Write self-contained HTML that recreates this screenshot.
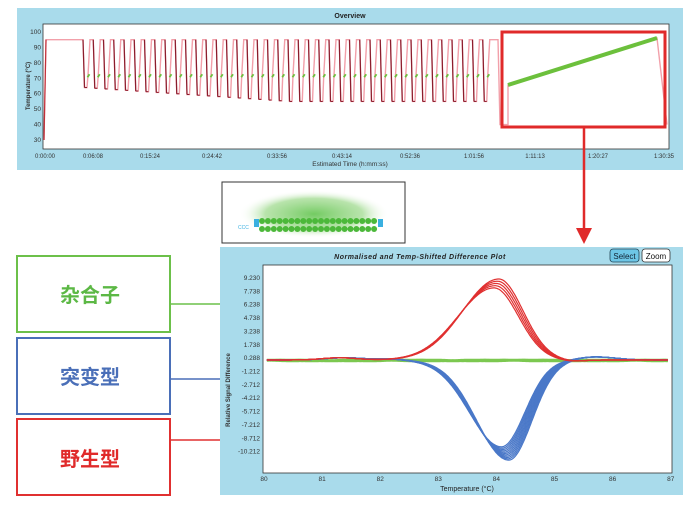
<!DOCTYPE html>
<html><head><meta charset="utf-8"><style>
html,body{margin:0;padding:0;background:#fff;width:694px;height:507px;overflow:hidden;font-family:"Liberation Sans",sans-serif}
</style></head><body>
<svg id="s" width="694" height="507" xmlns="http://www.w3.org/2000/svg" font-family="Liberation Sans, sans-serif">
<defs>
<radialGradient id="glow" cx="50%" cy="50%" r="50%"><stop offset="0" stop-color="#6cc85a" stop-opacity="0.95"/><stop offset="0.65" stop-color="#9ad888" stop-opacity="0.7"/><stop offset="1" stop-color="#ffffff" stop-opacity="0"/></radialGradient>
</defs>
<rect x="17" y="8" width="666" height="162" fill="#a9dbeb"/>
<rect x="43" y="24" width="626" height="125" fill="#fff" stroke="#333" stroke-width="0.8"/>
<text x="350" y="18" font-size="7" font-weight="bold" text-anchor="middle" fill="#222">Overview</text>
<g font-size="6.5" fill="#333" text-anchor="end" id="tyl"></g>
<g font-size="6" fill="#333" text-anchor="middle">
<text x="45" y="158">0:00:00</text><text x="93" y="158">0:06:08</text><text x="150" y="158">0:15:24</text><text x="212" y="158">0:24:42</text><text x="277" y="158">0:33:56</text><text x="342" y="158">0:43:14</text><text x="410" y="158">0:52:36</text><text x="474" y="158">1:01:56</text><text x="535" y="158">1:11:13</text><text x="598" y="158">1:20:27</text><text x="664" y="158">1:30:35</text>
<text x="350" y="166" font-size="6.5">Estimated Time (h:mm:ss)</text>
</g>
<text transform="translate(30,86) rotate(-90)" font-size="6" font-weight="bold" text-anchor="middle" fill="#333">Temperature (°C)</text>
<g id="top"></g>
<rect x="502" y="32" width="163" height="95" fill="none" stroke="#e02a2a" stroke-width="3"/>
<line x1="508" y1="85" x2="657" y2="38" stroke="#6cc03c" stroke-width="4"/>
<line x1="584" y1="127" x2="584" y2="230" stroke="#e02a2a" stroke-width="2.5"/>
<polygon points="576,228 592,228 584,244" fill="#e02a2a"/>
<rect x="222" y="182" width="183" height="61" fill="#fff" stroke="#333" stroke-width="1"/>
<ellipse cx="314" cy="214" rx="75" ry="24" fill="url(#glow)"/>
<g id="dna"></g>
<g font-family="Liberation Sans, Noto Sans CJK SC, sans-serif" font-weight="bold" font-size="20" text-anchor="middle">
<rect x="17" y="256" width="153" height="76" fill="#fff" stroke="#6cc04a" stroke-width="2"/>
<text x="90" y="302" fill="#5cb845">杂合子</text>
<rect x="17" y="338" width="153" height="76" fill="#fff" stroke="#4a6fb8" stroke-width="2"/>
<text x="90" y="384" fill="#4a6fb8">突变型</text>
<rect x="17" y="419" width="153" height="76" fill="#fff" stroke="#e03030" stroke-width="2"/>
<text x="90" y="466" fill="#e02a2a">野生型</text>
</g>
<line x1="170" y1="304" x2="220" y2="304" stroke="#6cc04a" stroke-width="1.5"/>
<line x1="170" y1="379" x2="220" y2="379" stroke="#4a6fb8" stroke-width="1.5"/>
<line x1="170" y1="440" x2="220" y2="440" stroke="#e03030" stroke-width="1.5"/>
<rect x="220" y="247" width="463" height="248" fill="#a9dbeb"/>
<rect x="263" y="265" width="409" height="208" fill="#fff" stroke="#333" stroke-width="0.8"/>
<text x="420" y="259" font-size="7" font-weight="bold" font-style="italic" text-anchor="middle" fill="#222" letter-spacing="0.5">Normalised and Temp-Shifted Difference Plot</text>
<rect x="610" y="249" width="29" height="13" rx="3" fill="#6ec6e6" stroke="#245" stroke-width="0.8"/>
<text x="624.5" y="259" font-size="8" text-anchor="middle" fill="#123">Select</text>
<rect x="642" y="249" width="28" height="13" rx="3" fill="#fff" stroke="#333" stroke-width="0.8"/>
<text x="656" y="259" font-size="8" text-anchor="middle" fill="#111">Zoom</text>
<g font-size="6.5" fill="#333" text-anchor="end" id="byl"></g>
<g font-size="6.5" fill="#333" text-anchor="middle" id="bxl"></g>
<text x="467" y="491" font-size="7" text-anchor="middle" fill="#222">Temperature (°C)</text>
<text transform="translate(230,390) rotate(-90)" font-size="6" font-weight="bold" text-anchor="middle" fill="#333">Relative Signal Difference</text>
<g id="bot"></g>
</svg>
<script>
var NS="http://www.w3.org/2000/svg";
function el(p,t,a,txt){var e=document.createElementNS(NS,t);for(var k in a)e.setAttribute(k,a[k]);if(txt!==undefined)e.textContent=txt;document.getElementById(p).appendChild(e);return e;}
function Y(T){return 32+(100-T)*1.543;}
for(var t=30;t<=100;t+=10)el("tyl","text",{x:41,y:Y(t)+2},String(t));
var pts=[[44,Y(30)],[46,Y(95)],[83,Y(95)]];var dark=[];var greens=[];
var n=40,x0=83,per=(493-83)/n;
for(var i=0;i<n;i++){var x=x0+i*per;var low=64-Math.min(9,i*0.45);
pts.push([x+1.5,Y(low)]);dark.push([x,Y(95),x+1.5,Y(low)]);pts.push([x+4,Y(low)]);pts.push([x+5,Y(72)]);greens.push([x+4.5,Y(72)]);pts.push([x+7,Y(95)]);pts.push([x+per,Y(95)]);}
pts.push([498,Y(95)]);pts.push([500,Y(40)]);pts.push([508,Y(40)]);pts.push([508,85]);pts.push([657,38]);pts.push([667,Y(40)]);
el("top","polyline",{points:pts.map(p=>p.join(",")).join(" "),fill:"none",stroke:"#f2a0aa","stroke-width":1.4});
dark.forEach(d=>el("top","line",{x1:d[0],y1:d[1],x2:d[2],y2:d[3],stroke:"#8a1c2c","stroke-width":1.2}));
dark.forEach(d=>el("top","line",{x1:d[2],y1:d[3],x2:d[2]+2.5,y2:d[3],stroke:"#8a1c2c","stroke-width":1}));
greens.forEach(g=>el("top","line",{x1:g[0],y1:g[1]+2,x2:g[0]+2,y2:g[1]-1,stroke:"#6cc03c","stroke-width":1.8}));
el("top","line",{x1:44,y1:Y(30),x2:46,y2:Y(95),stroke:"#c0303a","stroke-width":1.2});
for(var j=0;j<20;j++){var cx=262+j*5.9;el("dna","circle",{cx:cx,cy:221,r:3,fill:"#4cb83a"});el("dna","circle",{cx:cx,cy:229,r:3,fill:"#4cb83a"});}
el("dna","rect",{x:254,y:219,width:5,height:8,fill:"#3ab0e0"});el("dna","rect",{x:378,y:219,width:5,height:8,fill:"#3ab0e0"});
el("dna","text",{x:238,y:229,"font-size":5,fill:"#3ab0e0"},"CCC");
var labs=["9.230","7.738","6.238","4.738","3.238","1.738","0.288","-1.212","-2.712","-4.212","-5.712","-7.212","-8.712","-10.212"];
labs.forEach((l,i)=>el("byl","text",{x:260,y:280+i*13.36},l));
for(var k=0;k<=7;k++)el("bxl","text",{x:264+k*58.1,y:481},String(80+k));
function X(T){return 264+(T-80)*58.1;}function V(v){return 360-8.9*v;}
function g(T,m,sl,sr){var s=T<m?sl:sr;return Math.exp(-Math.pow((T-m)/s,2)/2);}
function red(T,o){return (8.6+o*0.25)*g(T,84+o*0.02,0.62,0.42)+0.25*g(T,81.3,0.3,0.3)-0.15*g(T,85.3,0.2,0.2);}
function blue(T,o){return -(10.5+o*0.3)*g(T,84.15+o*0.025,0.55,0.4)+0.35*g(T,85.7,0.3,0.35)+0.25*g(T,81.4,0.35,0.35)+0.1*g(T,82.2,0.2,0.2);}
function grn(T,o){return 0.12*Math.sin(T*3+o)-0.05;}
function path(f,o){var d="";for(var T=80.05;T<=86.95;T+=0.02){d+=(d?"L":"M")+X(T).toFixed(1)+","+V(f(T,o)).toFixed(1);}return d;}
[-2,-1,0,1,2].forEach(o=>el("bot","path",{d:path(grn,o),fill:"none",stroke:"#7cc850","stroke-width":1.4}));
[-2.5,-2,-1.5,-1,-0.5,0,0.5,1,1.5,2,2.5].forEach(o=>el("bot","path",{d:path(blue,o),fill:"none",stroke:"#4a78c8","stroke-width":1.2}));
[-2,-1,0,1,2].forEach(o=>el("bot","path",{d:path(red,o),fill:"none",stroke:"#e03030","stroke-width":1.2}));
</script>
</body></html>
